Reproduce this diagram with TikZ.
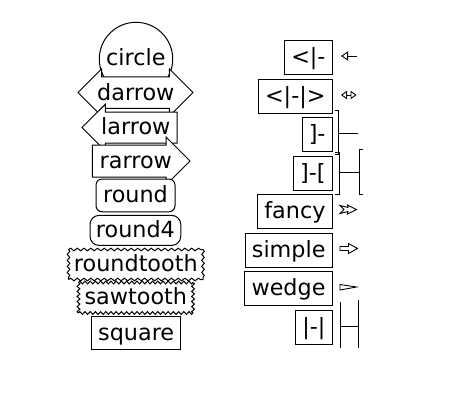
\documentclass[tikz,border=0pt]{standalone}
\usepackage{fontspec}
\setmainfont{DejaVu Sans}
\usetikzlibrary{arrows.meta,decorations.pathmorphing}

\begin{document}
\begin{tikzpicture}[x=1pt,y=-1pt,line width=1pt,
  lbl/.style={font=\fontsize{22.3pt}{26pt}\selectfont,inner sep=0pt,text height=19pt,text depth=5pt},
  shp/.style={draw,fill=white},
  boxlbl/.style={lbl,shp,minimum height=#1},
  tagbox/.style={lbl,shp,anchor=east,inner xsep=6.7pt,minimum height=34pt},
  wavy/.style={decorate,decoration={snake,segment length=#1,amplitude=1.3pt}},
  teeth/.style={decorate,decoration={zigzag,segment length=#1,amplitude=1.4pt}},
  arr/.style={line width=0.9pt}]
  \useasboundingbox (0,0) rectangle (450,400);
  % box styles
  \node[lbl,shp,circle,minimum size=73.4pt] (circle) at (136,59) {};
  \path[shp] (101.6,76.75) -- (169.4,76.75) -- (169.4,68.9) -- (193,92.5) -- (169.4,116.1) -- (169.4,108.25)
    -- (101.6,108.25) -- (101.6,116.1) -- (78,92.5) -- (101.6,68.9) -- cycle;
  \path[shp] (105.3,112) -- (177,112) -- (177,143) -- (105.3,143) -- (105.3,150.75) -- (82,127.5) -- (105.3,104.25) -- cycle;
  \path[shp] (92.3,145) -- (166,145) -- (166,137) -- (190,161) -- (166,185) -- (166,177) -- (92.3,177) -- cycle;
  \node[lbl] (circletxt) at (135.8,58.75) {circle};
  \node[lbl] (darrow) at (135.8,93) {darrow};
  \node[lbl] (larrow) at (135.8,127.25) {larrow};
  \node[lbl] (rarrow) at (135.8,161.5) {rarrow};
  \node[boxlbl=32.7pt,minimum width=79pt,rounded corners=6pt] (round) at (135.5,195.4) {round};
  \node[boxlbl=30pt,minimum width=90.7pt,rounded corners=9pt] (round4) at (135.4,230.4) {round4};
  \fill[white] (68.5,249.5) rectangle (203,279.5);
  \draw[wavy=6.725pt] (68.5,249.5) -- (203,249.5);
  \draw[wavy=6.725pt] (68.5,279.5) -- (203,279.5);
  \draw[wavy=6pt] (68.5,249.5) -- (68.5,279.5);
  \draw[wavy=6pt] (203,249.5) -- (203,279.5);
  \node[lbl] (roundtooth) at (135.8,264.5) {roundtooth};
  \fill[white] (78.5,282.5) rectangle (193,313);
  \draw[teeth=5.2pt] (78.5,282.5) -- (193,282.5);
  \draw[teeth=5.2pt] (78.5,313) -- (193,313);
  \draw[teeth=5.08pt] (78.5,282.5) -- (78.5,313);
  \draw[teeth=5.08pt] (193,282.5) -- (193,313);
  \node[lbl] (sawtooth) at (135.8,297.8) {sawtooth};
  \node[boxlbl=33.3pt,minimum width=89pt] (square) at (136.2,333.3) {square};
  % arrow styles
  \node[tagbox] (lt) at (332.7,57.5) {<|-};
  \node[tagbox] (ltgt) at (332.7,96.1) {<|-|>};
  \node[tagbox] (rb) at (332.7,134.6) {]-};
  \node[tagbox] (rblb) at (332.7,173.2) {]-[};
  \node[tagbox] (fancy) at (332.7,211.8) {fancy};
  \node[tagbox] (simple) at (332.7,250.4) {simple};
  \node[tagbox] (wedge) at (332.7,288.9) {wedge};
  \node[tagbox] (bars) at (332.7,327.5) {|-|};
  \coordinate (lt-s) at (341,56);
  \coordinate (lt-e) at (357,56);
  \coordinate (ltgt-s) at (341,95);
  \coordinate (ltgt-e) at (356.5,95);
  \draw[arr,{Triangle[open,length=7pt,width=9pt]}-] (lt-s) -- (lt-e);
  \draw[arr,{Triangle[open,length=6pt,width=8.5pt]}-{Triangle[open,length=6pt,width=8.5pt]}] (ltgt-s) -- (ltgt-e);
  \draw[arr] (335,110) -| (338.3,154) -- (335,154);
  \draw[arr] (338.3,133) -- (358.3,133);
  \draw[arr] (335,152) -| (339,194) -- (335,194);
  \draw[arr] (362.5,149) -| (359,194) -- (362.5,194);
  \draw[arr] (339,172.5) -- (359,172.5);
  \path[shp,arr] (340,205.5) -- (348,207.5) -- (347.5,205) -- (356.5,209.5) -- (347.5,214) -- (348,211.5) -- (340,213.5) -- (344,209.5) -- cycle;
  \path[shp,arr] (340,246.5) -- (348.5,246.5) -- (348.5,243.5) -- (357.5,248.5) -- (348.5,253.5) -- (348.5,250.5) -- (340,250.5) -- cycle;
  \path[shp,arr] (340,284.5) -- (356.5,287) -- (340,290) -- cycle;
  \draw[arr] (340,302) -- (340,348);
  \draw[arr] (358.3,300) -- (358.3,348);
  \draw[arr] (340,326) -- (358.3,326);
\end{tikzpicture}
\end{document}
